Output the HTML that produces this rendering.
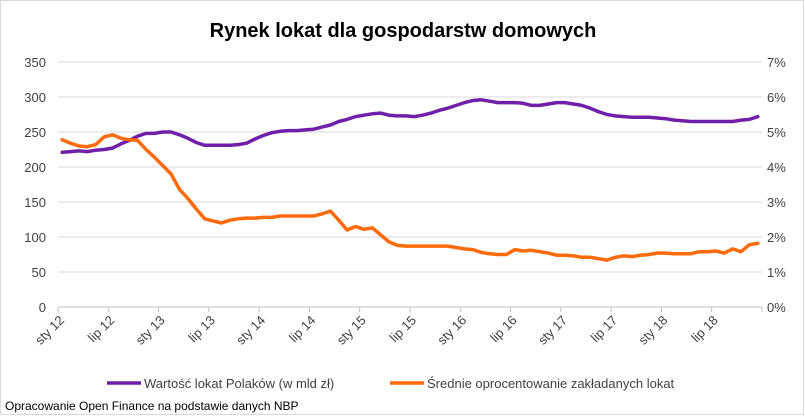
<!DOCTYPE html>
<html><head><meta charset="utf-8"><style>
body{margin:0;background:#fff;}
#wrap{position:relative;width:805px;height:416px;background:#fff;}
svg{position:absolute;left:0;top:0;font-family:"Liberation Sans",sans-serif;}
</style></head><body>
<div id="wrap">
<svg id="chart" width="805" height="416">
<rect x="0.5" y="0.5" width="803" height="414" fill="#fff" stroke="#d9d9d9"/>
<text x="403" y="37" text-anchor="middle" font-size="20" font-weight="bold" fill="#000">Rynek lokat dla gospodarstw domowych</text>
<g id="grid"></g><g id="axes"></g><g id="series"></g>
<g>
<line x1="107" y1="383" x2="141" y2="383" stroke="#7020A8" stroke-width="3.5"/>
<text x="144" y="388" font-size="13" fill="#404040">Wartość lokat Polaków (w mld zł)</text>
<line x1="390" y1="383" x2="424" y2="383" stroke="#FF6A0A" stroke-width="3.5"/>
<text x="427" y="388" font-size="13" fill="#404040">Średnie oprocentowanie zakładanych lokat</text>
</g>
<text x="5" y="410" font-size="12" fill="#000">Opracowanie Open Finance na podstawie danych NBP</text>
</svg></div>
<script>
const purpleValues=[221,222,223,222,224,225,227,233,238,244,248,248,250,250,246,241,235,231,231,231,231,232,234,240,245,249,251,252,252,253,254,257,260,265,268,272,274,276,277,274,273,273,
272,274,277,281,284,288,292,295,296,294,292,292,292,291,288,288,290,292,292,290,288,284,279,275,273,272,271,271,271,270,269,267,266,265,265,265,265,265,265,267,268,272];
const orangeValues=[4.78,4.68,4.60,4.58,4.64,4.86,4.92,4.82,4.78,4.76,4.50,4.28,4.04,3.80,3.36,3.10,2.80,2.52,2.46,2.40,2.48,2.52,2.54,2.54,2.56,2.56,2.60,2.60,2.60,2.60,2.60,2.66,2.74,2.48,2.20,2.30,2.22,2.26,2.06,1.86,1.76,1.74,
1.74,1.74,1.74,1.74,1.74,1.70,1.66,1.64,1.56,1.52,1.50,1.50,1.64,1.60,1.62,1.58,1.54,1.48,1.48,1.46,1.42,1.42,1.38,1.34,1.42,1.46,1.44,1.48,1.50,1.54,1.54,1.52,1.52,1.52,1.58,1.58,1.60,1.54,1.66,1.58,1.78,1.82];
const xLabels=["sty 12","lip 12","sty 13","lip 13","sty 14","lip 14","sty 15","lip 15","sty 16","lip 16","sty 17","lip 17","sty 18","lip 18"];
const leftTicks=[0,50,100,150,200,250,300,350];
const rightTicks=["0%","1%","2%","3%","4%","5%","6%","7%"];
const NS="http://www.w3.org/2000/svg";
const X0=58,X1=762,Y0=307,Y1=62,N=purpleValues.length;
const xTick=i=>X0+i*(X1-X0)/N;
const xPt=i=>X0+(i+0.5)*(X1-X0)/N;
const yL=v=>Y0-(v/350)*(Y0-Y1);
const yR=p=>Y0-(p/7)*(Y0-Y1);
function mk(tag,attrs,parent){const e=document.createElementNS(NS,tag);for(const k in attrs)e.setAttribute(k,attrs[k]);parent.appendChild(e);return e;}
const grid=document.getElementById('grid'),axes=document.getElementById('axes'),ser=document.getElementById('series');
leftTicks.forEach((v,k)=>{
  const y=yL(v);
  if(v>0){const g=mk('line',{x1:X0,x2:X1,y1:y,y2:y,stroke:'#d9d9d9','stroke-width':1},grid);
  
  }
  const t=mk('text',{x:46,y:y+5,'text-anchor':'end','font-size':13,fill:'#404040'},axes);t.textContent=v;
  
  
  const r=mk('text',{x:767,y:y+5,'font-size':13,fill:'#404040'},axes);r.textContent=rightTicks[k];
  
  
});
const ax=mk('line',{x1:X0,x2:X1,y1:Y0,y2:Y0,stroke:'#bfbfbf','stroke-width':1},axes);


for(let i=0;i<=N;i+=6){
  const x=xTick(i);
  const tk=mk('line',{x1:x,x2:x,y1:Y0,y2:Y0+5,stroke:'#bfbfbf'},axes);
  
  
}
xLabels.forEach((s,k)=>{
  const x=xTick(k*6)+7,y=321;
  const t=mk('text',{x:x,y:y,'text-anchor':'end','font-size':13,fill:'#404040',transform:`rotate(-45 ${x} ${y})`},axes);
  t.textContent=s;
  
  
});
const pp=purpleValues.map((v,i)=>xPt(i).toFixed(1)+','+yL(v).toFixed(1)).join(' ');
const l1=mk('polyline',{points:pp,fill:'none',stroke:'#7020A8','stroke-width':3.5,'stroke-linejoin':'round','stroke-linecap':'round'},ser);


const op=orangeValues.map((v,i)=>xPt(i).toFixed(1)+','+yR(v).toFixed(1)).join(' ');
const l2=mk('polyline',{points:op,fill:'none',stroke:'#FF6A0A','stroke-width':3.5,'stroke-linejoin':'round','stroke-linecap':'round'},ser);


</script>
</body></html>
